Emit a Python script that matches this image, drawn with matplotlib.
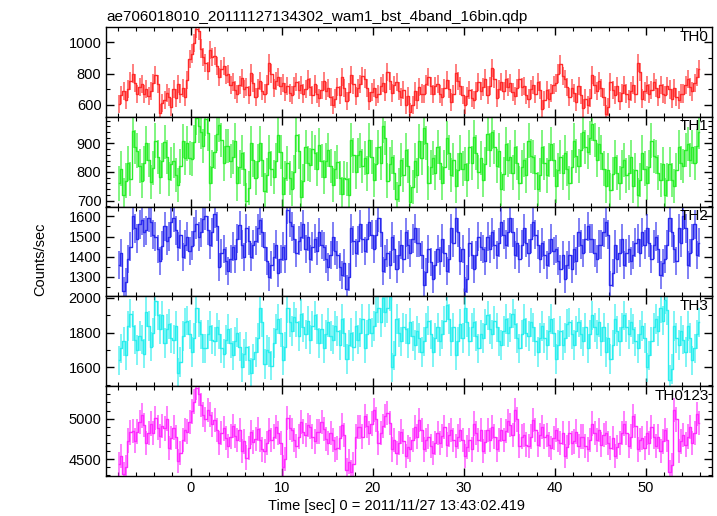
import numpy as np
import matplotlib
matplotlib.use('Agg')
import matplotlib.pyplot as plt
from matplotlib.ticker import MultipleLocator

# light curve: 0.25 s bins starting at t = -8 s
t_start = -8.0
bin_width = 0.25

th0 = [605, 662, 688, 628, 700, 752, 800, 742, 668, 715, 735, 668, 700, 655, 690, 738,
       790, 735, 548, 612, 632, 676, 648, 585, 700, 642, 735, 672, 705, 652, 760, 895,
       928, 998, 1085, 1070, 960, 905, 868, 815, 952, 905, 915, 850, 775, 830, 850, 790,
       795, 728, 745, 692, 668, 728, 770, 700, 715, 660, 805, 738, 652, 705, 752, 690,
       672, 730, 865, 800, 710, 752, 780, 722, 738, 680, 718, 676, 660, 718, 746, 695,
       728, 672, 700, 762, 712, 665, 735, 668, 642, 695, 750, 690, 708, 648, 598, 640,
       715, 662, 775, 708, 622, 680, 790, 730, 655, 705, 735, 782, 768, 710, 622, 680,
       708, 652, 670, 720, 742, 680, 812, 752, 675, 728, 745, 688, 650, 692, 600, 658,
       552, 598, 685, 632, 712, 672, 668, 730, 778, 722, 668, 720, 735, 668, 652, 705,
       760, 700, 615, 668, 805, 752, 718, 662, 600, 655, 695, 642, 632, 688, 748, 690,
       712, 768, 665, 718, 838, 768, 642, 700, 748, 690, 765, 712, 738, 680, 655, 705,
       768, 712, 718, 662, 640, 698, 728, 670, 745, 692, 575, 628, 695, 640, 678, 725,
       742, 800, 858, 785, 765, 712, 652, 708, 678, 620, 718, 660, 582, 640, 598, 645,
       790, 728, 690, 752, 705, 652, 540, 585, 748, 692, 660, 718, 625, 678, 728, 672,
       638, 685, 728, 670, 870, 810, 640, 685, 725, 672, 692, 748, 705, 652, 728, 672,
       665, 718, 698, 640, 705, 652, 628, 672, 672, 728, 765, 712, 685, 738, 775, 830]

th1 = [760, 812, 718, 770, 830, 775, 945, 888, 875, 822, 770, 830, 900, 842, 765, 815,
       910, 852, 782, 840, 905, 852, 775, 828, 840, 790, 755, 822, 908, 850, 900, 848,
       845, 905, 990, 962, 940, 890, 985, 935, 760, 818, 870, 932, 965, 912, 830, 890,
       890, 838, 852, 910, 760, 818, 868, 810, 700, 745, 900, 842, 780, 838, 900, 842,
       735, 788, 870, 812, 782, 840, 928, 870, 722, 778, 830, 778, 742, 800, 930, 872,
       712, 768, 888, 830, 825, 882, 868, 810, 895, 838, 782, 840, 878, 820, 755, 812,
       835, 778, 722, 780, 775, 720, 912, 858, 800, 858, 875, 820, 850, 795, 912, 852,
       772, 828, 888, 832, 960, 918, 770, 828, 852, 798, 705, 755, 842, 790, 878, 822,
       695, 748, 840, 788, 908, 850, 955, 902, 762, 818, 850, 798, 888, 832, 762, 818,
       920, 868, 790, 842, 752, 808, 868, 812, 828, 772, 888, 832, 922, 868, 800, 850,
       772, 828, 932, 878, 940, 888, 820, 875, 740, 792, 898, 842, 852, 798, 888, 832,
       762, 818, 842, 788, 910, 855, 852, 798, 740, 790, 888, 832, 788, 842, 898, 842,
       752, 808, 852, 798, 868, 812, 762, 818, 910, 855, 822, 878, 940, 888, 870, 918,
       968, 912, 842, 898, 868, 812, 752, 808, 738, 792, 852, 798, 762, 818, 842, 788,
       798, 852, 752, 808, 718, 772, 868, 812, 762, 818, 910, 855, 852, 798, 772, 828,
       718, 772, 828, 772, 752, 808, 888, 832, 822, 878, 898, 842, 888, 832, 890, 940]

th2 = [1360, 1420, 1230, 1275, 1390, 1450, 1600, 1540, 1490, 1560, 1580, 1520, 1530, 1590, 1570, 1510,
       1500, 1440, 1380, 1455, 1550, 1480, 1500, 1570, 1590, 1530, 1450, 1510, 1400, 1460, 1500, 1430,
       1455, 1525, 1560, 1500, 1520, 1585, 1600, 1530, 1460, 1520, 1610, 1550, 1350, 1420, 1440, 1380,
       1330, 1390, 1450, 1390, 1490, 1555, 1460, 1400, 1540, 1480, 1400, 1460, 1480, 1540, 1580, 1520,
       1450, 1380, 1300, 1360, 1400, 1460, 1320, 1390, 1450, 1390, 1630, 1570, 1550, 1490, 1420, 1480,
       1500, 1560, 1440, 1500, 1390, 1450, 1490, 1430, 1520, 1460, 1450, 1390, 1350, 1410, 1500, 1430,
       1410, 1350, 1310, 1370, 1240, 1300, 1540, 1480, 1420, 1480, 1560, 1490, 1430, 1490, 1570, 1510,
       1440, 1510, 1590, 1520, 1330, 1390, 1420, 1360, 1500, 1440, 1340, 1410, 1460, 1390, 1520, 1460,
       1420, 1490, 1540, 1470, 1470, 1410, 1260, 1325, 1440, 1375, 1290, 1360, 1440, 1380, 1490, 1420,
       1330, 1390, 1540, 1470, 1590, 1520, 1380, 1440, 1230, 1290, 1470, 1410, 1340, 1410, 1500, 1450,
       1440, 1380, 1500, 1440, 1520, 1460, 1410, 1470, 1570, 1510, 1460, 1520, 1590, 1520, 1410, 1470,
       1390, 1460, 1540, 1470, 1420, 1490, 1570, 1510, 1460, 1390, 1470, 1410, 1360, 1420, 1490, 1430,
       1440, 1380, 1340, 1410, 1290, 1360, 1410, 1340, 1440, 1380, 1520, 1460, 1420, 1490, 1550, 1490,
       1490, 1420, 1390, 1460, 1460, 1520, 1570, 1510, 1260, 1320, 1460, 1390, 1420, 1490, 1360, 1420,
       1440, 1380, 1410, 1470, 1490, 1420, 1520, 1460, 1540, 1470, 1390, 1460, 1500, 1440, 1310, 1370,
       1390, 1460, 1590, 1520, 1440, 1380, 1540, 1470, 1600, 1540, 1360, 1420, 1490, 1560, 1410, 1470]

th3 = [1640, 1710, 1750, 1670, 1840, 1910, 1840, 1760, 1700, 1780, 1760, 1680, 1920, 1840, 1720, 1800,
       1980, 1900, 1820, 1900, 1740, 1820, 1850, 1770, 1760, 1840, 1570, 1630, 1780, 1860, 1870, 1790,
       1690, 1770, 1940, 1860, 1790, 1710, 1710, 1790, 1840, 1760, 1750, 1830, 1790, 1710, 1680, 1760,
       1820, 1740, 1670, 1750, 1800, 1720, 1600, 1680, 1720, 1640, 1570, 1650, 1690, 1770, 1940, 1860,
       1620, 1700, 1690, 1610, 1740, 1820, 1880, 1800, 1640, 1720, 1940, 1860, 1810, 1890, 1860, 1780,
       1910, 1830, 1790, 1870, 1760, 1840, 1900, 1820, 1740, 1820, 1710, 1790, 1860, 1780, 1760, 1840,
       1810, 1730, 1880, 1800, 1650, 1730, 1800, 1720, 1840, 1760, 1800, 1880, 1710, 1790, 1880, 1800,
       1840, 1920, 1940, 1860, 2000, 1920, 1940, 2010, 1600, 1670, 1880, 1800, 1750, 1830, 1820, 1740,
       1860, 1780, 1730, 1810, 1770, 1690, 1750, 1830, 1870, 1790, 1690, 1770, 1830, 1750, 1790, 1870,
       1960, 1880, 1750, 1830, 1670, 1750, 1850, 1770, 1940, 1860, 1750, 1830, 1860, 1780, 1710, 1790,
       1770, 1850, 1900, 1820, 1790, 1870, 1830, 1750, 1730, 1810, 1880, 1800, 1830, 1910, 1850, 1770,
       1710, 1790, 1880, 1800, 1780, 1860, 1830, 1750, 1690, 1770, 1840, 1770, 1730, 1810, 1880, 1800,
       1650, 1730, 1810, 1730, 1770, 1850, 1860, 1790, 1730, 1810, 1860, 1790, 1750, 1830, 1710, 1790,
       1900, 1830, 1790, 1860, 1750, 1830, 1690, 1770, 1650, 1730, 1880, 1810, 1750, 1830, 1900, 1830,
       1790, 1860, 1820, 1750, 1710, 1790, 1840, 1770, 1600, 1670, 1750, 1830, 1880, 1810, 1940, 1870,
       1990, 1930, 1530, 1590, 1840, 1770, 1730, 1810, 1760, 1690, 1840, 1770, 1640, 1710, 1790, 1860]

th0123 = [4440, 4540, 4320, 4400, 4730, 4830, 4850, 4730, 4840, 4960, 5040, 4920, 4700, 4820, 4940, 4820,
          5010, 4890, 4790, 4910, 4880, 5000, 4640, 4760, 4890, 4770, 4480, 4580, 4740, 4860, 4840, 4960,
          5090, 5210, 5380, 5300, 5170, 5050, 4990, 5110, 5050, 4930, 4980, 4860, 4700, 4820, 4880, 4760,
          4660, 4780, 4910, 4790, 4740, 4860, 4600, 4720, 4520, 4640, 4830, 4710, 4750, 4870, 4740, 4620,
          4600, 4700, 4860, 4740, 4780, 4900, 4820, 4700, 4400, 4500, 5010, 4890, 4860, 4740, 4660, 4780,
          4960, 4840, 4800, 4920, 4900, 4780, 4720, 4840, 4840, 4960, 4870, 4750, 4700, 4820, 4740, 4620,
          4640, 4760, 4920, 4800, 4370, 4470, 4340, 4440, 4780, 4900, 4900, 4780, 5030, 4910, 4820, 4940,
          5110, 4990, 4700, 4820, 4910, 5030, 5070, 4950, 4620, 4740, 4580, 4700, 4840, 4720, 4540, 4650,
          4620, 4740, 4900, 4780, 4980, 4860, 4620, 4740, 4780, 4660, 4580, 4700, 4820, 4700, 4790, 4900,
          4680, 4800, 4860, 4740, 4660, 4780, 4860, 4740, 4540, 4650, 4740, 4620, 4940, 4820, 4740, 4860,
          4600, 4710, 4860, 4740, 4900, 4780, 4620, 4740, 4860, 4740, 4850, 4970, 4920, 4800, 5110, 4990,
          4660, 4780, 4800, 4680, 4660, 4780, 4980, 4860, 4680, 4800, 4900, 4780, 4800, 4680, 4640, 4760,
          4860, 4740, 4700, 4820, 4540, 4650, 4820, 4700, 4720, 4840, 4660, 4780, 4780, 4660, 4620, 4740,
          4940, 4820, 4740, 4860, 4680, 4800, 4820, 4700, 4640, 4760, 4540, 4650, 4700, 4820, 4940, 4820,
          4660, 4780, 5030, 4910, 4620, 4740, 4760, 4640, 4820, 4700, 4900, 4780, 4660, 4780, 4600, 4720,
          4860, 4740, 4340, 4430, 5110, 4990, 4600, 4720, 4800, 4680, 4780, 4900, 4700, 4820, 5060, 4950]

labels = ['TH0', 'TH1', 'TH2', 'TH3', 'TH0123']
errors = [58, 60, 70, 85, 150]
colors = ['#ff2a2a', '#2aee2a', '#2a2aee', '#2aeeee', '#ff2aff']
ylims = [(523, 1098), (679, 993), (1204, 1648), (1492, 2009), (4293, 5400)]
major = [200, 100, 100, 200, 500]
minor = [100, 20, 50, 100, 100]

series = [th0, th1, th2, th3, th0123]
t = t_start + bin_width * (np.arange(len(th0)) + 0.5)

plt.rcParams['font.family'] = ['Liberation Sans', 'DejaVu Sans']

fig, axes = plt.subplots(5, 1, sharex=True, figsize=(7.17, 5.16), dpi=100)
fig.subplots_adjust(left=0.1483, right=0.9926, top=0.9477, bottom=0.0775, hspace=0)

for ax, y, lab, e, c, yl, ma, mi in zip(axes, series, labels, errors, colors, ylims, major, minor):
    y = np.array(y)
    ax.errorbar(t, y, yerr=e, fmt='none', ecolor=c, elinewidth=1.4, alpha=0.6, capsize=0)
    ax.step(t, y, where='mid', color=c, lw=1.0)
    ax.set_ylim(*yl)
    ax.set_xlim(-9.27, 57.25)
    ax.yaxis.set_major_locator(MultipleLocator(ma))
    ax.yaxis.set_minor_locator(MultipleLocator(mi))
    ax.xaxis.set_major_locator(MultipleLocator(10))
    ax.xaxis.set_minor_locator(MultipleLocator(2))
    ax.tick_params(which='both', direction='in', top=True, right=True, labelsize=10.5)
    ax.tick_params(which='major', length=6, width=1)
    ax.tick_params(which='minor', length=3, width=0.8)
    for s in ax.spines.values():
        s.set_linewidth(1.0)
    ax.text(0.995, 0.97, lab, transform=ax.transAxes, ha='right', va='top', fontsize=11)

axes[0].set_title('ae706018010_20111127134302_wam1_bst_4band_16bin.qdp',
                  loc='left', fontsize=11, pad=4)
fig.text(40 / 717, 1 - 259 / 516, 'Counts/sec', rotation=90, ha='center', va='center', fontsize=10.5)
fig.text(397 / 717, 1 - 506 / 516, 'Time [sec] 0 = 2011/11/27 13:43:02.419',
         ha='center', va='center', fontsize=10.5)

fig.savefig('out.png', dpi=100)
